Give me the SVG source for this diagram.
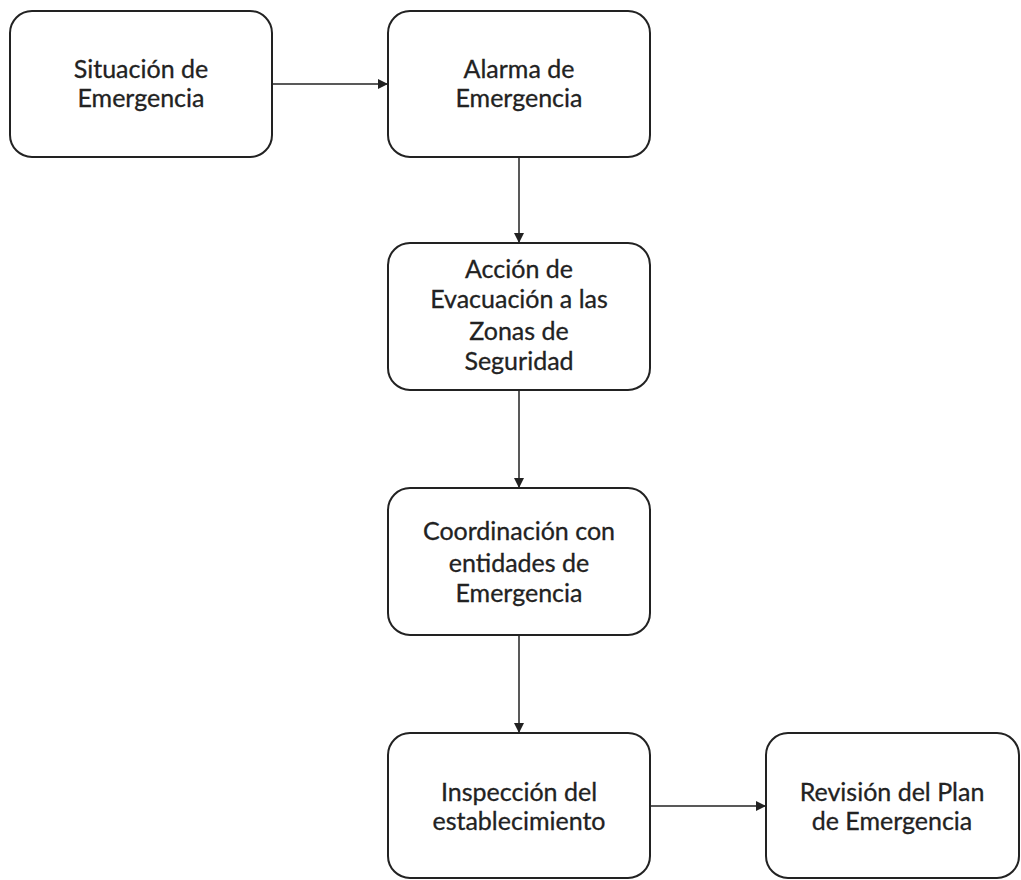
<svg xmlns="http://www.w3.org/2000/svg" width="1021" height="880" viewBox="0 0 1021 880">
<defs>
<style>
.box{fill:#fff;stroke:#222;stroke-width:2}
.t{font-family:Lato,"Open Sans","Liberation Sans",sans-serif;font-size:25px;fill:#222;stroke:#222;stroke-width:0.3;text-anchor:middle}
.c{stroke:#222;stroke-width:1.5;fill:none;marker-end:url(#ah)}
</style>
<marker id="ah" viewBox="0 0 10 10" refX="10" refY="5" markerWidth="11" markerHeight="10" markerUnits="userSpaceOnUse" orient="auto">
<path d="M0,0 L10,5 L0,10 z" fill="#222"/>
</marker>
</defs>
<rect width="1021" height="880" fill="#fff"/>
<g id="connectors">
<line class="c" x1="272" y1="84" x2="388" y2="84"/>
<line class="c" x1="519" y1="157" x2="519" y2="243"/>
<line class="c" x1="519" y1="390" x2="519" y2="488"/>
<line class="c" x1="519" y1="635" x2="519" y2="733"/>
<line class="c" x1="650" y1="806" x2="766" y2="806"/>
</g>
<g id="n1">
<rect class="box" x="10" y="11" width="262" height="146" rx="22"/>
<text class="t" x="141" y="78">Situación de</text>
<text class="t" x="141" y="107">Emergencia</text>
</g>
<g id="n2">
<rect class="box" x="388" y="11" width="262" height="146" rx="22"/>
<text class="t" x="519" y="78">Alarma de</text>
<text class="t" x="519" y="107">Emergencia</text>
</g>
<g id="n3">
<rect class="box" x="388" y="243" width="262" height="147" rx="22"/>
<text class="t" x="519" y="278">Acción de</text>
<text class="t" x="519" y="308">Evacuación a las</text>
<text class="t" x="519" y="340">Zonas de</text>
<text class="t" x="519" y="370">Seguridad</text>
</g>
<g id="n4">
<rect class="box" x="388" y="488" width="262" height="147" rx="22"/>
<text class="t" x="519" y="540">Coordinación con</text>
<text class="t" x="519" y="572">entidades de</text>
<text class="t" x="519" y="602">Emergencia</text>
</g>
<g id="n5">
<rect class="box" x="388" y="733" width="262" height="145" rx="22"/>
<text class="t" x="519" y="801">Inspección del</text>
<text class="t" x="519" y="830">establecimiento</text>
</g>
<g id="n6">
<rect class="box" x="766" y="733" width="253" height="145" rx="22"/>
<text class="t" x="892" y="801">Revisión del Plan</text>
<text class="t" x="892" y="830">de Emergencia</text>
</g>
</svg>
